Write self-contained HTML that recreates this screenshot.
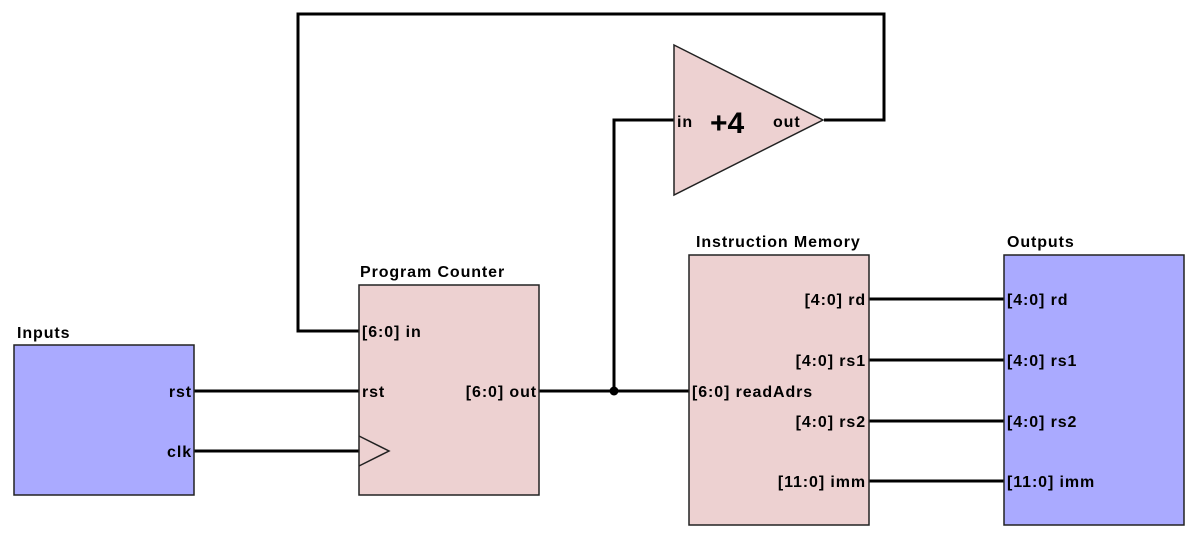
<!DOCTYPE html>
<html><head><style>
html,body{margin:0;padding:0;background:#fff;}
svg text{font-family:"Liberation Sans",Arial,sans-serif;font-weight:bold;font-size:16px;letter-spacing:0.9px;fill:#000;}
</style></head><body>
<svg width="1195" height="537" viewBox="0 0 1195 537" xmlns="http://www.w3.org/2000/svg">
<g fill="none" stroke="#000" stroke-width="3">
<polyline points="359,331 298,331 298,14 884,14 884,120 824,120"/>
<polyline points="674,120 614,120 614,391"/>
<line x1="194" y1="391" x2="359" y2="391"/>
<line x1="194" y1="451" x2="359" y2="451"/>
<line x1="539" y1="391" x2="689" y2="391"/>
<line x1="869" y1="299" x2="1004" y2="299"/>
<line x1="869" y1="360" x2="1004" y2="360"/>
<line x1="869" y1="421" x2="1004" y2="421"/>
<line x1="869" y1="481" x2="1004" y2="481"/>
</g>
<circle cx="614" cy="391" r="4.5" fill="#000"/>
<g stroke="#222" stroke-width="1.5">
<rect x="14" y="345" width="180" height="150" fill="#aaaaff"/>
<rect x="359" y="285" width="180" height="210" fill="#edd1d1"/>
<rect x="689" y="255" width="180" height="270" fill="#edd1d1"/>
<rect x="1004" y="255" width="180" height="270" fill="#aaaaff"/>
<polygon points="674,45 823,120 674,195" fill="#edd1d1"/>
<polyline points="359,436 389,451 359,466" fill="none"/>
</g>
<text x="17" y="338">Inputs</text>
<text x="192" y="397" text-anchor="end">rst</text>
<text x="192" y="457" text-anchor="end">clk</text>
<text x="360" y="277">Program Counter</text>
<text x="362" y="337">[6:0] in</text>
<text x="362" y="397">rst</text>
<text x="537" y="397" text-anchor="end">[6:0] out</text>
<text x="696" y="247">Instruction Memory</text>
<text x="692" y="397">[6:0] readAdrs</text>
<text x="866" y="305" text-anchor="end">[4:0] rd</text>
<text x="866" y="366" text-anchor="end">[4:0] rs1</text>
<text x="866" y="427" text-anchor="end">[4:0] rs2</text>
<text x="866" y="487" text-anchor="end">[11:0] imm</text>
<text x="1007" y="247">Outputs</text>
<text x="1007" y="305">[4:0] rd</text>
<text x="1007" y="366">[4:0] rs1</text>
<text x="1007" y="427">[4:0] rs2</text>
<text x="1007" y="487">[11:0] imm</text>
<text x="677" y="127">in</text>
<text x="710" y="133" style="font-size:30px;letter-spacing:0">+4</text>
<text x="773" y="127">out</text>
</svg>
</body></html>
